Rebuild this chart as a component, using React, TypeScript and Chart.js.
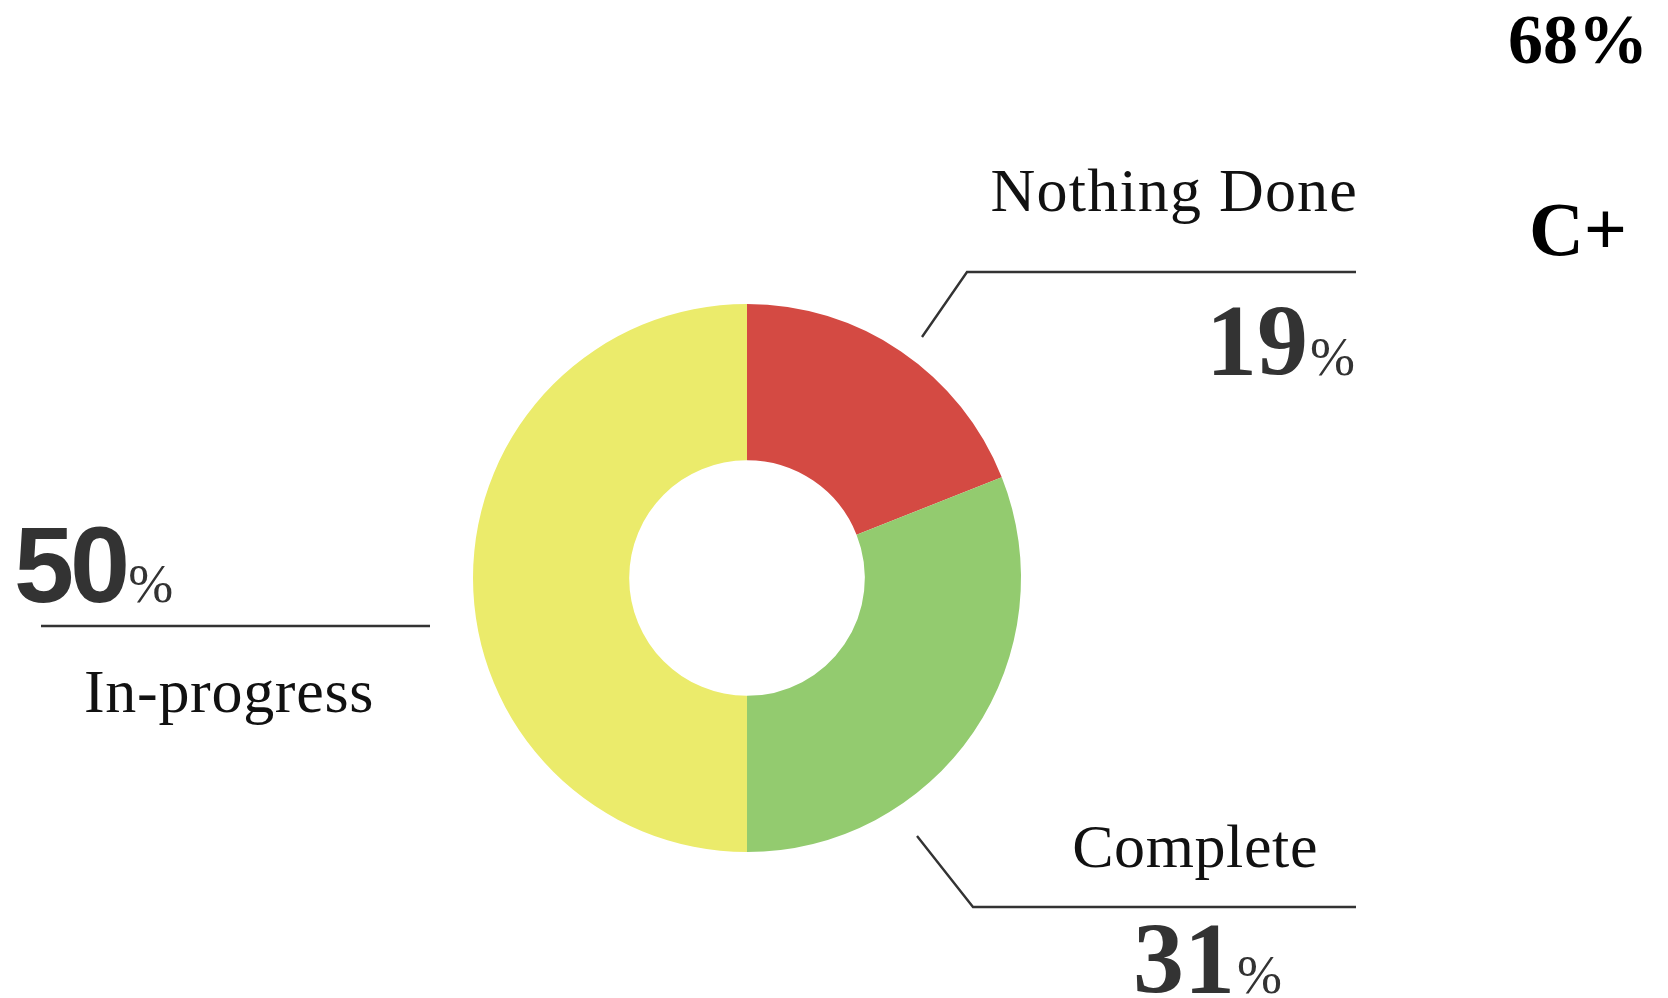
import React, { useEffect, useRef } from "react";
import { Chart, registerables } from "chart.js";

Chart.register(...registerables);

const categories = ["Nothing Done", "Complete", "In-progress"];
const values = [19, 31, 50];
const sliceColors = ["#D44A43", "#93CB6F", "#EBEB6B"];
const summaryScore = "68%";
const summaryGrade = "C+";

const W = 1668;
const H = 998;

const labelsPlugin = {
  id: "labelsPlugin",
  afterDraw(chart: any) {
    const ctx = chart.ctx as CanvasRenderingContext2D;
    ctx.save();

    const line = (pts: number[][]) => {
      ctx.beginPath();
      ctx.moveTo(pts[0][0], pts[0][1]);
      for (let i = 1; i < pts.length; i++) ctx.lineTo(pts[i][0], pts[i][1]);
      ctx.strokeStyle = "#333333";
      ctx.lineWidth = 2.4;
      ctx.stroke();
    };

    const labelFont = '62px "Liberation Serif", serif';
    const numFont = 'bold 102px "Liberation Serif", serif';
    const pctFont = '54px "Liberation Serif", serif';
    const sansNumFont = 'bold 108px "Liberation Sans", sans-serif';

    const drawLabel = (text: string, x: number, y: number, align: "left" | "right", spacing: number) => {
      ctx.font = labelFont;
      ctx.fillStyle = "#111111";
      ctx.textAlign = align;
      ctx.textBaseline = "alphabetic";
      (ctx as any).letterSpacing = spacing + "px";
      ctx.fillText(text, x, y);
      (ctx as any).letterSpacing = "0px";
    };

    const drawNum = (num: string, font: string, x: number, y: number, align: "left" | "right", spacing = 0) => {
      ctx.font = font;
      (ctx as any).letterSpacing = spacing + "px";
      const nw = ctx.measureText(num).width;
      (ctx as any).letterSpacing = "0px";
      ctx.font = pctFont;
      const pw = ctx.measureText("%").width;
      const gap = 2;
      const startX = align === "left" ? x : x - (nw + gap + pw);
      ctx.fillStyle = "#333333";
      ctx.textAlign = "left";
      ctx.textBaseline = "alphabetic";
      ctx.font = font;
      (ctx as any).letterSpacing = spacing + "px";
      ctx.fillText(num, startX, y);
      (ctx as any).letterSpacing = "0px";
      ctx.font = pctFont;
      ctx.fillText("%", startX + nw + gap, y);
    };

    // Nothing Done
    line([[922, 337], [967, 272], [1356, 272]]);
    drawLabel(categories[0], 1358, 211, "right", 1.2);
    drawNum(String(values[0]), numFont, 1355, 375, "right");

    // Complete
    line([[917, 836], [973, 907], [1356, 907]]);
    drawLabel(categories[1], 1318, 867, "right", 0.6);
    drawNum(String(values[1]), numFont, 1133, 993, "left");

    // In-progress
    line([[41, 626], [430, 626]]);
    drawNum(String(values[2]), sansNumFont, 14, 602, "left", -4);
    drawLabel(categories[2], 84, 712, "left", 0.7);

    // Summary
    ctx.fillStyle = "#000000";
    ctx.textAlign = "center";
    ctx.font = 'bold 70px "Liberation Serif", serif';
    ctx.fillText(summaryScore, 1578, 63);
    ctx.font = 'bold 76px "Liberation Serif", serif';
    ctx.fillText(summaryGrade, 1578, 255);

    ctx.restore();
  },
};

export default function App() {
  const ref = useRef<HTMLCanvasElement | null>(null);

  useEffect(() => {
    if (!ref.current) return;
    const chart = new Chart(ref.current, {
      type: "doughnut",
      data: {
        labels: categories,
        datasets: [
          {
            data: values,
            backgroundColor: sliceColors,
            borderWidth: 0,
            hoverBorderWidth: 0,
            hoverOffset: 0,
            offset: 0,
          } as any,
        ],
      },
      options: {
        animation: false,
        responsive: false,
        cutout: "43%",
        layout: {
          padding: { left: 473, top: 304, right: W - 1021, bottom: H - 852 },
        },
        plugins: {
          legend: { display: false },
          tooltip: { enabled: false },
        },
        events: [],
      },
      plugins: [labelsPlugin],
    });
    return () => chart.destroy();
  }, []);

  return (
    <div style={{ position: "absolute", left: 0, top: 0, width: W, height: H, background: "#ffffff", overflow: "hidden" }}>
      <canvas ref={ref} width={W} height={H} style={{ width: W, height: H, display: "block" }} />
    </div>
  );
}
